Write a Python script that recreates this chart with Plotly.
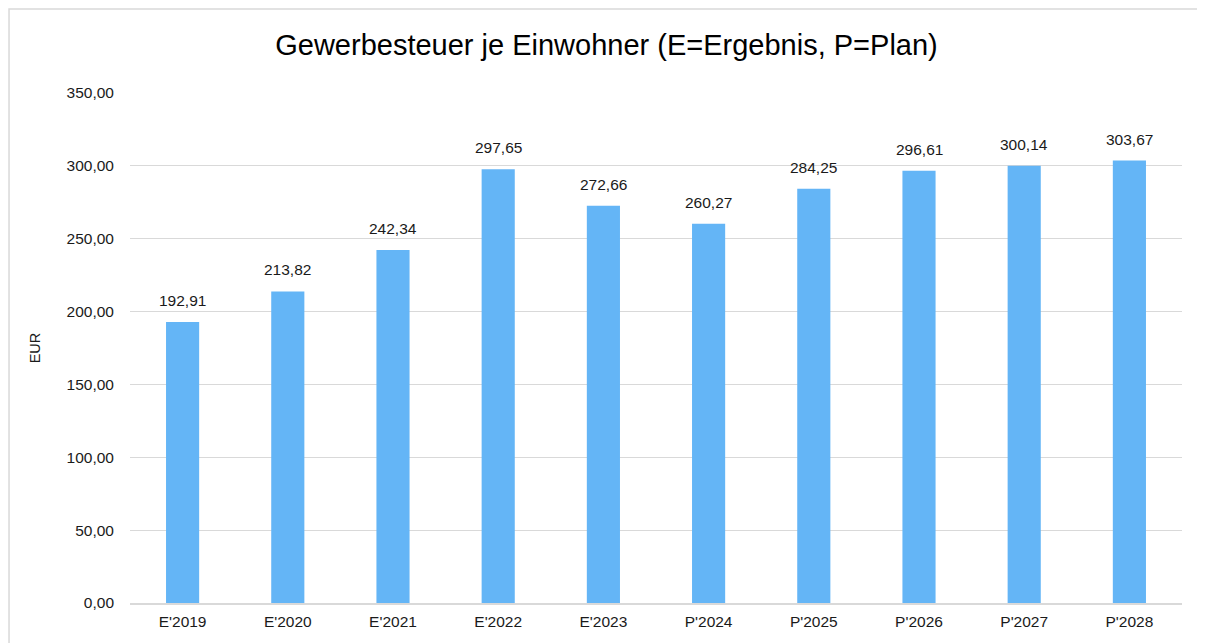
import plotly.graph_objects as go

categories = ["E'2019", "E'2020", "E'2021", "E'2022", "E'2023",
              "P'2024", "P'2025", "P'2026", "P'2027", "P'2028"]
values = [192.91, 213.82, 242.34, 297.65, 272.66,
          260.27, 284.25, 296.61, 300.14, 303.67]
y_ticks = [0, 50, 100, 150, 200, 250, 300, 350]

font_family = "Liberation Sans, Arial, sans-serif"
txt = "#1a1a1a"

fig = go.Figure()
fig.add_trace(go.Bar(
    x=categories, y=values,
    marker=dict(color="#64B5F6", line=dict(width=0)),
    hoverinfo="x+y",
))

for c, v in zip(categories, values):
    fig.add_annotation(
        x=c, y=v, text=f"{v:.2f}".replace(".", ","),
        showarrow=False, yanchor="bottom", yshift=11,
        font=dict(size=15.5, color=txt, family=font_family),
    )

# light gray chart border
fig.add_shape(type="rect", xref="paper", yref="paper",
              x0=-0.115, x1=1.0162, y0=-0.12, y1=1.1647,
              line=dict(color="#d9d9d9", width=1.5), layer="below")

fig.update_layout(
    width=1197, height=635,
    margin=dict(l=122, r=23, t=85, b=40),
    paper_bgcolor="white", plot_bgcolor="white",
    separators=",.",
    bargap=0.685,
    showlegend=False,
    title=dict(text="Gewerbesteuer je Einwohner (E=Ergebnis, P=Plan)",
               x=0.5, xref="container", xanchor="center",
               y=0.942, yanchor="middle",
               font=dict(size=29, color="#000000", family=font_family)),
    font=dict(family=font_family, size=15.5, color=txt),
    xaxis=dict(
        showgrid=False, showline=True, linecolor="#d9d9d9", linewidth=2,
        ticks="", ticklabelstandoff=3,
        tickfont=dict(size=15.5, color=txt),
    ),
    yaxis=dict(
        range=[0, 350], tickvals=y_ticks, tickformat=".2f",
        showgrid=True, gridcolor="#d9d9d9", gridwidth=1,
        zeroline=False, showline=False, ticks="",
        ticklabelstandoff=15,
        tickfont=dict(size=15.5, color=txt),
        title=dict(text="EUR", standoff=22, font=dict(size=14.5, color=txt)),
    ),
)

fig.write_html("out.html")
